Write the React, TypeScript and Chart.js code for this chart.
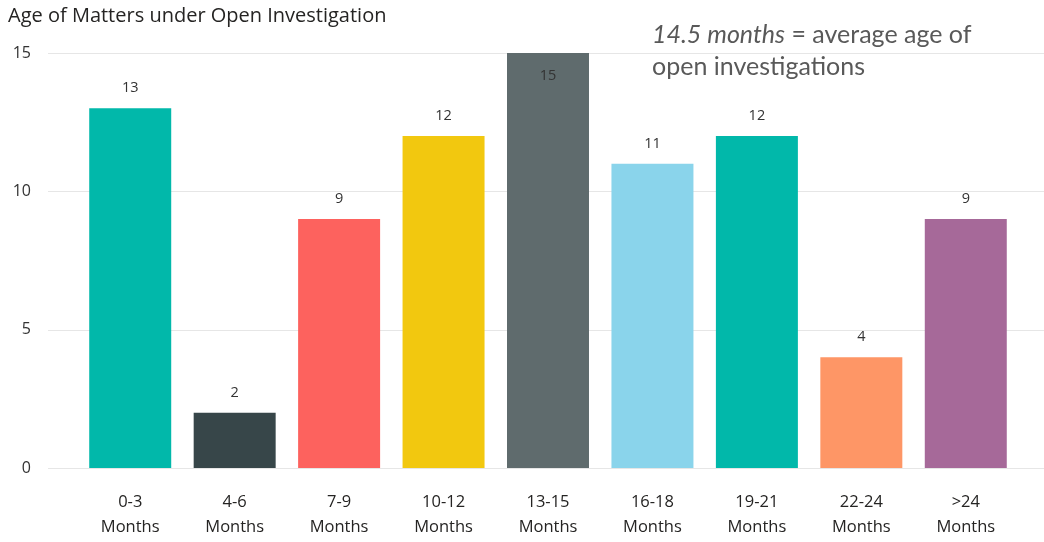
import React, { useEffect, useRef } from "react";
import { Chart, registerables } from "chart.js";

Chart.register(...registerables);

const categories: string[][] = [
  ["0-3", "Months"],
  ["4-6", "Months"],
  ["7-9", "Months"],
  ["10-12", "Months"],
  ["13-15", "Months"],
  ["16-18", "Months"],
  ["19-21", "Months"],
  ["22-24", "Months"],
  [">24", "Months"],
];
const counts: number[] = [13, 2, 9, 12, 15, 11, 12, 4, 9];
const barColors: string[] = [
  "#01B8AA",
  "#374649",
  "#FD625E",
  "#F2C80F",
  "#5F6B6D",
  "#8AD4EB",
  "#01B8AA",
  "#FE9666",
  "#A66999",
];
const yTicks: number[] = [0, 5, 10, 15];
const titleText = "Age of Matters under Open Investigation";
const noteItalic = "14.5 months";
const noteRest = " = average age of";
const noteLine2 = "open investigations";

const FONT = "'Open Sans', 'Noto Sans', sans-serif";
const NOTE_FONT = "Lato, 'Open Sans', sans-serif";

const decorPlugin = {
  id: "decor",
  beforeDatasetsDraw(chart: any) {
    const { ctx, scales } = chart;
    const y = scales.y;
    ctx.save();
    ctx.strokeStyle = "#E6E6E6";
    ctx.lineWidth = 1;
    yTicks.forEach((v) => {
      const py = Math.round(y.getPixelForValue(v)) + 0.5;
      ctx.beginPath();
      ctx.moveTo(48, py);
      ctx.lineTo(1044, py);
      ctx.stroke();
    });
    ctx.fillStyle = "#333333";
    ctx.font = `16px ${FONT}`;
    ctx.textAlign = "right";
    ctx.textBaseline = "middle";
    yTicks.forEach((v) => {
      ctx.fillText(String(v), 31, y.getPixelForValue(v));
    });
    ctx.restore();
  },
  afterDraw(chart: any) {
    const { ctx, scales } = chart;
    const y = scales.y;
    const meta = chart.getDatasetMeta(0);
    ctx.save();
    // data labels
    ctx.font = `14.5px ${FONT}`;
    ctx.fillStyle = "#333333";
    ctx.textAlign = "center";
    ctx.textBaseline = "middle";
    meta.data.forEach((bar: any, i: number) => {
      const v = counts[i];
      const top = y.getPixelForValue(v);
      const inside = top - 20 < y.top + 4;
      const ly = inside ? top + 23 : top - 20;
      ctx.fillText(String(v), bar.x, ly);
    });
    // title
    ctx.font = `20px ${FONT}`;
    ctx.fillStyle = "#252423";
    ctx.textAlign = "left";
    ctx.textBaseline = "middle";
    ctx.fillText(titleText, 8, 16);
    // annotation
    ctx.fillStyle = "#595959";
    ctx.font = `italic 25px ${NOTE_FONT}`;
    ctx.fillText(noteItalic, 652, 35);
    const w = ctx.measureText(noteItalic).width;
    ctx.font = `25px ${NOTE_FONT}`;
    ctx.fillText(noteRest, 652 + w, 35);
    ctx.fillText(noteLine2, 652, 67);
    ctx.restore();
  },
};

export default function App() {
  const canvasRef = useRef<HTMLCanvasElement | null>(null);

  useEffect(() => {
    const canvas = canvasRef.current;
    if (!canvas) return;
    const chart = new Chart(canvas, {
      type: "bar",
      data: {
        labels: categories,
        datasets: [
          {
            data: counts,
            backgroundColor: barColors,
            borderWidth: 0,
            categoryPercentage: 1,
            barPercentage: 0.785,
          },
        ],
      },
      options: {
        animation: false,
        responsive: false,
        maintainAspectRatio: false,
        layout: { padding: { left: 78, right: 26, top: 53, bottom: 0 } },
        plugins: {
          legend: { display: false },
          tooltip: { enabled: false },
          title: { display: false },
        },
        scales: {
          y: {
            display: false,
            min: 0,
            max: 15,
          },
          x: {
            grid: { display: false, drawTicks: false },
            border: { display: false },
            ticks: {
              color: "#252423",
              font: { family: FONT, size: 16.5, lineHeight: 1.52 },
              padding: 22,
              maxRotation: 0,
              autoSkip: false,
            },
            afterFit: (scale: any) => {
              scale.height = 74;
            },
          },
        },
      },
      plugins: [decorPlugin],
    });
    return () => chart.destroy();
  }, []);

  return (
    <div style={{ position: "fixed", left: 0, top: 0, width: 1044, height: 542, background: "#ffffff" }}>
      <canvas ref={canvasRef} width={1044} height={542} style={{ width: 1044, height: 542, display: "block" }} />
    </div>
  );
}
